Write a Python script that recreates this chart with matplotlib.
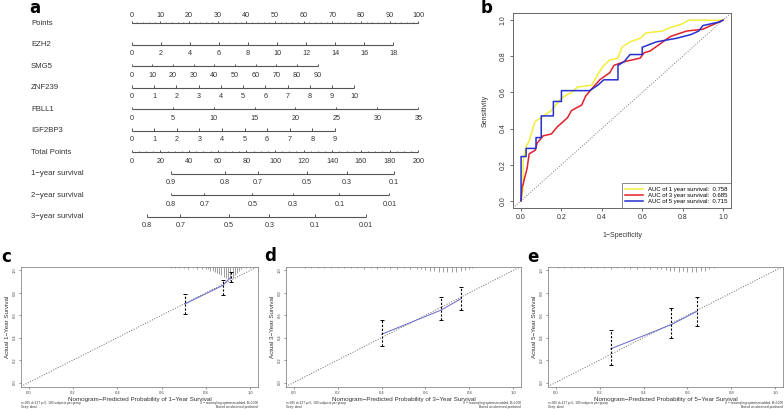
import matplotlib
matplotlib.use("Agg")
import matplotlib.pyplot as plt
import numpy as np

plt.rcParams['font.family'] = ['Liberation Sans', 'DejaVu Sans']

# ---------------- panel a: nomogram ----------------
var_names = ["EZH2", "SMG5", "ZNF239", "FBLL1", "IGF2BP3"]
var_max = [18, 90, 10, 35, 9]
var_step = [2, 10, 1, 5, 1]
var_max_points = [91.3, 64.9, 77.7, 100.0, 70.9]

surv_names = ["1\u2212year survival", "2\u2212year survival", "3\u2212year survival"]
surv1_labels = ["0.9", "0.8", "0.7", "0.5", "0.3", "0.1"]
surv1_total = [27.2, 65.1, 88.3, 122.5, 150.0, 183.0]
surv2_labels = ["0.8", "0.7", "0.5", "0.3", "0.1", "0.01"]
surv2_total = [27.2, 50.7, 84.2, 112.3, 144.9, 179.8]
surv3_labels = ["0.8", "0.7", "0.5", "0.3", "0.1", "0.01"]
surv3_total = [10.5, 33.9, 67.9, 96.0, 128.1, 163.5]

# ---------------- panel b: ROC ----------------
yellow_fpr = [0, 0.01, 0.01, 0.025, 0.04, 0.05, 0.07, 0.10, 0.15, 0.20, 0.25, 0.28, 0.35,
              0.38, 0.41, 0.44, 0.48, 0.50, 0.54, 0.59, 0.62, 0.70, 0.74, 0.80, 0.83, 1.0]
yellow_tpr = [0, 0.07, 0.22, 0.30, 0.33, 0.37, 0.44, 0.46, 0.50, 0.57, 0.60, 0.63, 0.64,
              0.70, 0.75, 0.78, 0.79, 0.85, 0.88, 0.90, 0.93, 0.94, 0.96, 0.98, 1.0, 1.0]
red_fpr = [0, 0.005, 0.01, 0.016, 0.03, 0.04, 0.07, 0.08, 0.11, 0.15, 0.18, 0.23, 0.25, 0.30,
           0.32, 0.35, 0.39, 0.44, 0.46, 0.51, 0.59, 0.61, 0.64, 0.69, 0.74, 0.82, 0.90, 0.94, 1.0]
red_tpr = [0, 0.08, 0.09, 0.12, 0.18, 0.26, 0.28, 0.32, 0.36, 0.37, 0.41, 0.46, 0.50, 0.53,
           0.58, 0.62, 0.67, 0.71, 0.75, 0.77, 0.79, 0.82, 0.83, 0.87, 0.91, 0.94, 0.95, 0.97, 1.0]
blue_fpr = [0, 0, 0.025, 0.025, 0.074, 0.074, 0.10, 0.10, 0.16, 0.16, 0.20, 0.20, 0.34, 0.38,
            0.41, 0.48, 0.48, 0.51, 0.54, 0.60, 0.60, 0.67, 0.77, 0.84, 0.88, 0.90, 0.98, 1.0]
blue_tpr = [0, 0.245, 0.245, 0.29, 0.29, 0.35, 0.35, 0.47, 0.47, 0.55, 0.55, 0.61, 0.61, 0.64,
            0.67, 0.67, 0.75, 0.77, 0.81, 0.81, 0.85, 0.88, 0.90, 0.92, 0.94, 0.97, 0.99, 1.0]
auc_labels = ["AUC of 1 year survival:  0.758",
              "AUC of 3 year survival:  0.685",
              "AUC of 5 year survival:  0.715"]

# ---------------- panels c-e: calibration ----------------
c_pred = [0.705, 0.876, 0.913]
c_obs = [0.70, 0.866, 0.94]
c_lo = [0.61, 0.777, 0.895]
c_hi = [0.786, 0.917, 0.985]
c_rug_x = [0.64, 0.66, 0.68, 0.70, 0.72, 0.74, 0.76, 0.78, 0.80, 0.81, 0.82, 0.83, 0.84, 0.85,
           0.86, 0.87, 0.88, 0.89, 0.90, 0.91, 0.92, 0.93, 0.94, 0.95, 0.96, 0.98, 1.00]
c_rug_h = [0.01, 0.01, 0.01, 0.01, 0.015, 0.01, 0.015, 0.015, 0.02, 0.02, 0.03, 0.03, 0.04, 0.05,
           0.06, 0.07, 0.08, 0.09, 0.10, 0.10, 0.09, 0.07, 0.05, 0.03, 0.02, 0.01, 0.01]

d_pred = [0.40, 0.67, 0.76]
d_obs = [0.43, 0.645, 0.745]
d_lo = [0.33, 0.553, 0.645]
d_hi = [0.56, 0.763, 0.85]
d_rug_x = [0.05, 0.08, 0.11, 0.14, 0.17, 0.20, 0.23, 0.26, 0.29, 0.32, 0.35, 0.38, 0.41, 0.44,
           0.47, 0.50, 0.53, 0.56, 0.58, 0.60, 0.62, 0.64, 0.66, 0.68, 0.70, 0.72, 0.74, 0.76,
           0.78, 0.80, 0.81]
d_rug_h = [0.01, 0.01, 0.01, 0.01, 0.01, 0.01, 0.01, 0.01, 0.01, 0.015, 0.01, 0.015, 0.01, 0.015,
           0.015, 0.01, 0.015, 0.02, 0.02, 0.025, 0.03, 0.03, 0.04, 0.045, 0.04, 0.045, 0.04, 0.03,
           0.025, 0.02, 0.01]

e_pred = [0.25, 0.525, 0.645]
e_obs = [0.30, 0.515, 0.636]
e_lo = [0.16, 0.40, 0.503]
e_hi = [0.47, 0.66, 0.763]
e_rug_x = [0.01, 0.04, 0.07, 0.10, 0.13, 0.16, 0.19, 0.22, 0.25, 0.28, 0.31, 0.34, 0.37, 0.40,
           0.43, 0.46, 0.48, 0.50, 0.52, 0.54, 0.56, 0.58, 0.60, 0.62, 0.64, 0.66, 0.68, 0.70, 0.72]
e_rug_h = [0.01, 0.01, 0.01, 0.01, 0.01, 0.01, 0.01, 0.01, 0.015, 0.01, 0.01, 0.015, 0.015, 0.01,
           0.015, 0.02, 0.02, 0.025, 0.03, 0.03, 0.04, 0.035, 0.045, 0.04, 0.04, 0.03, 0.03, 0.02, 0.01]

LINE = '#555555'
TXT = '#333333'

fig = plt.figure(figsize=(7.84, 4.09), dpi=100)


def px_box(left, top, right, bottom):
    """Axes rectangle from pixel edges of the 784x409 canvas."""
    W, H = 784, 409
    return [left / W, 1 - bottom / H, (right - left) / W, (bottom - top) / H]


def scale(ax, row, pos, labels, minor=None, above=False):
    ax.plot([pos[0], pos[-1]], [row, row], color=LINE, lw=0.8, solid_capstyle='butt')
    ax.vlines(pos, row - 0.12, row, color=LINE, lw=0.7)
    if minor is not None:
        ax.vlines(minor, row - 0.08, row, color=LINE, lw=0.6)
    ly = row - 0.39 if above else row + 0.40
    for p, lab in zip(pos, labels):
        ax.text(p, ly, lab, ha='center', va='center', fontsize=5.2, color=TXT)


# ---- a ----
ax = fig.add_axes(px_box(0, 0, 470, 240))
ax.axis('off')
ax.set_xlim(-45.95, 118.04)
ax.set_ylim(10.07, -1.093)
label_x = -35.1

pts = list(range(0, 101, 10))
scale(ax, 0, pts, [str(p) for p in pts], minor=np.arange(0, 101, 2), above=True)
ax.text(label_x, 0, "Points", fontsize=5.6, va='center', color=TXT)

for i, (name, vmax, step, mp) in enumerate(zip(var_names, var_max, var_step, var_max_points)):
    vals = list(range(0, vmax + 1, step))
    pos = [v / vmax * mp for v in vals]
    scale(ax, i + 1, pos, [str(v) for v in vals])
    ax.text(label_x, i + 1, name, fontsize=5.6, va='center', color=TXT)

tot = list(range(0, 201, 20))
scale(ax, 6, [t / 2 for t in tot], [str(t) for t in tot], minor=np.arange(0, 201, 5) / 2)
ax.text(label_x, 6, "Total Points", fontsize=5.6, va='center', color=TXT)

for j, (name, labs, tpos) in enumerate(zip(surv_names,
                                           [surv1_labels, surv2_labels, surv3_labels],
                                           [surv1_total, surv2_total, surv3_total])):
    scale(ax, 7 + j, [t / 2 for t in tpos], labs)
    ax.text(label_x, 7 + j, name, fontsize=5.6, va='center', color=TXT)

# ---- b ----
axb = fig.add_axes(px_box(513, 13, 731, 208))
axb.set_xlim(-0.04, 1.04)
axb.set_ylim(-0.04, 1.04)
axb.axline((0, 0), (1, 1), color='#777777', ls=':', lw=0.7)
axb.plot(yellow_fpr, yellow_tpr, color='#F2EE3A', lw=1.1, label=auc_labels[0])
axb.plot(red_fpr, red_tpr, color='#E0202A', lw=1.1, label=auc_labels[1])
axb.plot(blue_fpr, blue_tpr, color='#2530D0', lw=1.1, label=auc_labels[2])
ticks = [0, 0.2, 0.4, 0.6, 0.8, 1.0]
axb.set_xticks(ticks)
axb.set_yticks(ticks)
axb.set_xticklabels([f"{t:.1f}" for t in ticks])
axb.set_yticklabels([f"{t:.1f}" for t in ticks], rotation=90, va='center')
axb.tick_params(labelsize=5, length=2.5, width=0.5, pad=2, colors=TXT)
for s in axb.spines.values():
    s.set_color('#666666')
    s.set_linewidth(0.7)
axb.set_xlabel("1\u2212Specificity", fontsize=5, color=TXT, labelpad=8)
axb.set_ylabel("Sensitivity", fontsize=5, color=TXT, labelpad=8)
leg = axb.legend(loc='lower right', fontsize=4.3, frameon=True, fancybox=False,
                 borderaxespad=0, handlelength=3, labelspacing=0.2, borderpad=0.6,
                 handletextpad=0.8)
leg.get_frame().set_edgecolor('#555555')
leg.get_frame().set_linewidth(0.6)

# ---- c, d, e ----
panels = [
    (px_box(21, 267, 258, 387), 1, c_pred, c_obs, c_lo, c_hi, c_rug_x, c_rug_h),
    (px_box(286, 267, 521, 387), 3, d_pred, d_obs, d_lo, d_hi, d_rug_x, d_rug_h),
    (px_box(548, 267, 783, 387), 5, e_pred, e_obs, e_lo, e_hi, e_rug_x, e_rug_h),
]
for rect, yr, pred, obs, lo, hi, rx, rh in panels:
    axc = fig.add_axes(rect)
    axc.set_xlim(-0.035, 1.035)
    axc.set_ylim(-0.04, 1.03)
    axc.axline((0, 0), (1, 1), color='#666666', ls=':', lw=0.7)
    axc.vlines(rx, [1 - h for h in rh], 1, transform=axc.get_xaxis_transform(),
               color='#777777', lw=0.5)
    axc.plot(pred, obs, color='#6666CC', lw=0.7)
    eb = axc.errorbar(pred, obs, yerr=[np.array(obs) - np.array(lo), np.array(hi) - np.array(obs)],
                      fmt='none', ecolor='black', elinewidth=0.8, capsize=1.2, capthick=0.7)
    eb[2][0].set_linestyle((0, (2, 1.5)))
    axc.set_xticks(ticks)
    axc.set_yticks(ticks)
    axc.set_xticklabels([f"{t:.1f}" for t in ticks])
    axc.set_yticklabels([f"{t:.1f}" for t in ticks], rotation=90, va='center')
    axc.tick_params(labelsize=3, length=1.5, width=0.4, pad=1.5, colors='#444444')
    for s in axc.spines.values():
        s.set_color('#888888')
        s.set_linewidth(0.6)
    axc.set_xlabel(f"Nomogram\u2212Predicted Probability of {yr}\u2212Year Survival",
                   fontsize=4.5, color=TXT, labelpad=1.5)
    axc.set_ylabel(f"Actual {yr}\u2212Year Survival", fontsize=4.5, color=TXT, labelpad=2)
    axc.text(0.0, -0.115, "n=365 d=127 p=5, 100 subjects per group\nGray: ideal",
             transform=axc.transAxes, fontsize=2.3, va='top', ha='left', color=TXT,
             linespacing=1.2)
    axc.text(1.0, -0.115, "X \u2212 resampling optimism added, B=1000\nBased on observed-predicted",
             transform=axc.transAxes, fontsize=2.3, va='top', ha='right', color=TXT,
             linespacing=1.2)

# panel letters
for letter, (x, y) in zip("abcde", [(29, 8), (481, 8), (1, 257), (264, 256), (527, 257)]):
    fig.text(x / 784, 1 - y / 409, letter, fontsize=12, fontweight='bold',
             ha='left', va='center', family='DejaVu Sans')

fig.savefig("out.png", dpi=100)
